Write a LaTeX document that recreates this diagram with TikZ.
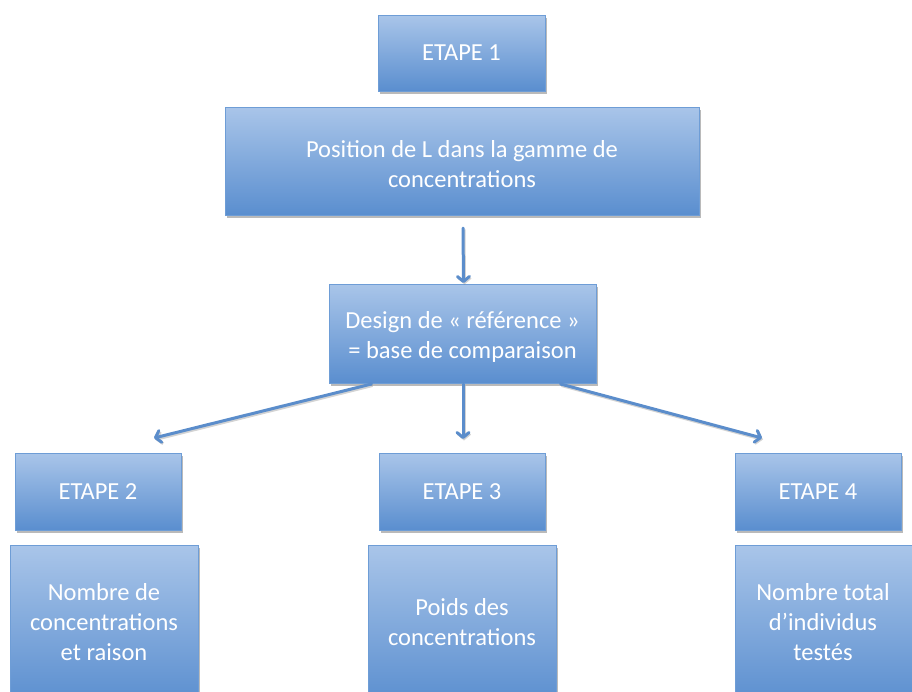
\documentclass[tikz,border=0pt]{standalone}
\usepackage{fontspec}
\setmainfont{Carlito}
\usetikzlibrary{shadows,arrows.meta,calc}
\definecolor{boxtop}{HTML}{A9C5E9}
\definecolor{boxbot}{HTML}{5A8ECF}
\definecolor{boxline}{HTML}{6E9DD6}
\definecolor{arrowc}{HTML}{5B8DCB}
\tikzset{
  box/.style={rectangle, anchor=north west, inner sep=0pt, outer sep=0pt,
    top color=boxtop, bottom color=boxbot, draw=boxline, line width=1pt,
    drop shadow={shadow xshift=1.5pt, shadow yshift=-2.5pt, opacity=0.45, fill=black!60}},
  lbl/.style={text=white, align=center, font=\fontsize{24.5}{30}\selectfont},
  conn/.style={draw=arrowc, line width=3pt, line cap=round, line join=round,
    -{Straight Barb[length=5pt,width=12pt,line cap=round,line join=round]},
    preaction={draw=black!50, opacity=0.35, line width=3pt, transform canvas={xshift=1pt,yshift=-1.5pt},
      -{Straight Barb[length=5pt,width=12pt]}}},
}
\begin{document}
\begin{tikzpicture}[x=1pt,y=-1pt]
\useasboundingbox (0,0) rectangle (912,691);
\clip (0,0) rectangle (912,691);
\node[box, minimum width=167pt, minimum height=76pt] (e1) at (378,15) {};
\node[box, minimum width=474pt, minimum height=108pt] (pos) at (225,107) {};
\node[box, minimum width=267pt, minimum height=99pt] (des) at (329,284) {};
\node[box, minimum width=166pt, minimum height=77pt] (e2) at (15,453) {};
\node[box, minimum width=166pt, minimum height=77pt] (e3) at (379,453) {};
\node[box, minimum width=166pt, minimum height=77pt] (e4) at (735,453) {};
\node[box, minimum width=188pt, minimum height=160pt] (t2) at (10,545) {};
\node[box, minimum width=188pt, minimum height=160pt] (t3) at (368,545) {};
\node[box, minimum width=190pt, minimum height=160pt] (t4) at (735,545) {};
\node[lbl] (e1txt) at (e1.center) {ETAPE 1};
\node[lbl] (postxt) at ($(pos.center)+(0,3)$) {Position de L dans la gamme de\\concentrations};
\node[lbl] (destxt) at ($(des.center)+(0,3)$) {Design de « référence »\\= base de comparaison};
\node[lbl] (e2txt) at (e2.center) {ETAPE 2};
\node[lbl] (e3txt) at (e3.center) {ETAPE 3};
\node[lbl] (e4txt) at (e4.center) {ETAPE 4};
\node[lbl] (t2txt) at (104,622) {Nombre de\\concentrations\\et raison};
\node[lbl] (t3txt) at (462,622) {Poids des\\concentrations};
\node[lbl] (t4txt) at (823,622) {Nombre total\\d’individus\\testés};
\coordinate (a2) at (154,438);
\coordinate (a3) at (463,439);
\coordinate (a4) at (762,438);
\draw[conn] ($(pos.south)+(1,13)$) -- ($(des.north)+(1,-1)$);
\draw[conn] ($(des.south)+(-91,1)$) -- (a2);
\draw[conn] ($(des.south)+(0.5,1)$) -- (a3);
\draw[conn] ($(des.south)+(98,1)$) -- (a4);
\end{tikzpicture}
\end{document}
